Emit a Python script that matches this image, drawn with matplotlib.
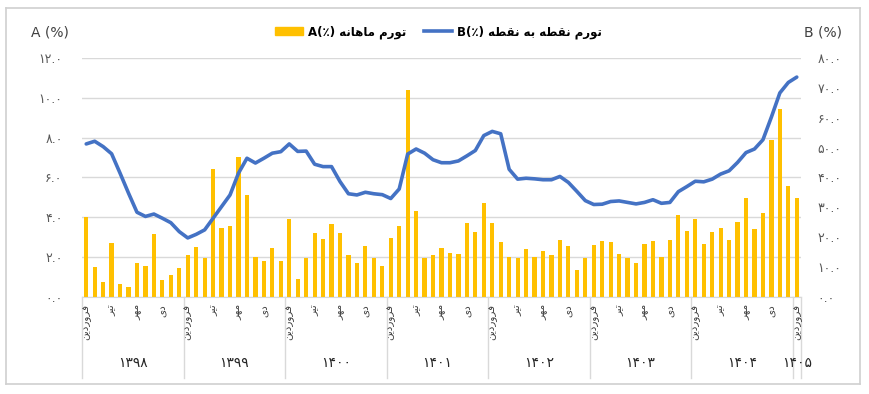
import numpy as np
import matplotlib
matplotlib.use('Agg')
import matplotlib.pyplot as plt
from matplotlib.patches import Rectangle
from matplotlib.lines import Line2D

plt.rcParams['font.family'] = ['DejaVu Sans']

# monthly inflation A (%) - Farvardin 1398 .. Farvardin 1405
a_monthly = [4.00, 1.50, 0.74, 2.72, 0.62, 0.47, 1.71, 1.54, 3.17, 0.84, 1.07, 1.43,
             2.10, 2.50, 1.96, 6.41, 3.46, 3.56, 7.03, 5.12, 1.98, 1.81, 2.47, 1.80,
             3.91, 0.87, 1.96, 3.19, 2.90, 3.63, 3.19, 2.10, 1.70, 2.53, 1.95, 1.54,
             2.95, 3.54, 10.41, 4.30, 1.96, 2.08, 2.45, 2.22, 2.13, 3.71, 3.26, 4.70,
             3.68, 2.74, 2.00, 1.95, 2.40, 2.00, 2.30, 2.11, 2.85, 2.57, 1.36, 1.96,
             2.60, 2.80, 2.75, 2.15, 1.93, 1.71, 2.65, 2.80, 2.00, 2.85, 4.13, 3.31,
             3.91, 2.67, 3.27, 3.47, 2.84, 3.76, 4.97, 3.39, 4.20, 7.87, 9.43, 5.59,
             4.97]
# point-to-point inflation B (%)
b_yoy = [51.2, 52.1, 50.3, 47.9, 41.4, 34.7, 28.3, 26.9, 27.7, 26.3, 24.8, 21.8,
         19.7, 20.9, 22.4, 26.3, 30.2, 34.1, 41.4, 46.4, 44.8, 46.4, 48.1, 48.6,
         51.2, 48.7, 48.8, 44.4, 43.6, 43.6, 38.6, 34.5, 34.1, 35.0, 34.5, 34.2,
         32.9, 36.1, 47.8, 49.5, 48.1, 45.9, 44.9, 44.9, 45.5, 47.2, 49.0, 54.0,
         55.4, 54.6, 42.7, 39.4, 39.7, 39.5, 39.2, 39.2, 40.3, 38.3, 35.3, 32.2,
         30.9, 31.0, 31.9, 32.1, 31.6, 31.1, 31.6, 32.5, 31.3, 31.6, 35.2, 36.9,
         38.7, 38.5, 39.4, 41.1, 42.2, 45.0, 48.3, 49.5, 52.6, 60.2, 68.3, 71.8,
         73.6]

years = ['۱۳۹۸', '۱۳۹۹', '۱۴۰۰', '۱۴۰۱', '۱۴۰۲', '۱۴۰۳', '۱۴۰۴', '۱۴۰۵']
month_labels = ['فروردین', 'تیر', 'مهر', 'دی']   # months 1, 4, 7, 10
left_ticks = [0, 2, 4, 6, 8, 10, 12]
right_ticks = [0, 10, 20, 30, 40, 50, 60, 70, 80]
label_a = 'تورم ماهانه'
label_b = 'تورم نقطه به نقطه'

# --- minimal persian shaping (matplotlib has no bidi / joining) ---
DUAL = {'ب': (0xFE8F, 0xFE90, 0xFE91, 0xFE92), 'ت': (0xFE95, 0xFE96, 0xFE97, 0xFE98),
        'ط': (0xFEC1, 0xFEC2, 0xFEC3, 0xFEC4), 'ف': (0xFED1, 0xFED2, 0xFED3, 0xFED4),
        'ق': (0xFED5, 0xFED6, 0xFED7, 0xFED8), 'م': (0xFEE1, 0xFEE2, 0xFEE3, 0xFEE4),
        'ن': (0xFEE5, 0xFEE6, 0xFEE7, 0xFEE8), 'ه': (0xFEE9, 0xFEEA, 0xFEEB, 0xFEEC),
        'ی': (0xFBFC, 0xFBFD, 0xFBFE, 0xFBFF)}
RIGHT = {'ا': (0xFE8D, 0xFE8E), 'و': (0xFEED, 0xFEEE), 'ر': (0xFEAD, 0xFEAE),
         'د': (0xFEA9, 0xFEAA)}


def fa(s):
    out = []
    for i, c in enumerate(s):
        prev = s[i - 1] if i > 0 else ''
        nxt = s[i + 1] if i + 1 < len(s) else ''
        jp = prev in DUAL
        if c in RIGHT:
            out.append(chr(RIGHT[c][1] if jp else RIGHT[c][0]))
        elif c in DUAL:
            jn = nxt in DUAL or nxt in RIGHT
            iso, fin, ini, med = DUAL[c]
            if jp and jn:
                out.append(chr(med))
            elif jp:
                out.append(chr(fin))
            elif jn:
                out.append(chr(ini))
            else:
                out.append(chr(iso))
        else:
            out.append(c)
    return ''.join(out)[::-1]


fdig = str.maketrans('0123456789', '۰۱۲۳۴۵۶۷۸۹')

def pnum(v):
    return ('%.1f' % v).translate(fdig)


x = np.arange(len(a_monthly))

fig = plt.figure(figsize=(8.7, 3.94), dpi=100)

# outer chart border, drawn as an empty background axes
ax0 = fig.add_axes([6 / 870, 10 / 394, 854 / 870, 376 / 394], zorder=-1)
ax0.set_xticks([])
ax0.set_yticks([])
ax0.patch.set_alpha(0)
for s in ax0.spines.values():
    s.set_color('#D0D0D0')
    s.set_linewidth(1.2)

ax1 = fig.add_axes([82 / 870, 97.3 / 394, 719 / 870, 238.7 / 394])
ax1.bar(x, a_monthly, width=0.5, color='#FFC000', zorder=2)
ax1.set_xlim(-0.5, len(x) - 0.5)
ax1.set_ylim(0, 12)
ax1.set_yticks(left_ticks)
ax1.set_yticklabels([pnum(v) for v in left_ticks])
ax1.tick_params(axis='y', length=0, pad=14, labelsize=9, labelcolor='#595959')
ax1.grid(axis='y', color='#D9D9D9', linewidth=1.0, zorder=0)
ax1.set_axisbelow(True)
for s in ['top', 'left', 'right']:
    ax1.spines[s].set_visible(False)
ax1.spines['bottom'].set_color('#D9D9D9')
ax1.set_xticks([])

ax2 = ax1.twinx()
ax2.plot(x, b_yoy, color='#4472C4', linewidth=2.6, solid_capstyle='round', zorder=3)
ax2.set_ylim(0, 80)
ax2.set_yticks(right_ticks)
ax2.set_yticklabels([pnum(v) for v in right_ticks])
ax2.tick_params(axis='y', length=0, pad=12, labelsize=9, labelcolor='#595959')
for s in ['top', 'left', 'right', 'bottom']:
    ax2.spines[s].set_visible(False)

# multi level category axis
trans = ax1.get_xaxis_transform()
for k in range(len(x)):
    m = k % 12
    if m in (0, 3, 6, 9):
        ax1.text(k, -0.03, fa(month_labels[m // 3]), transform=trans, rotation=90,
                 ha='center', va='top', fontsize=7.5, color='#404040')
bounds = list(range(0, len(x), 12)) + [len(x)]
for b in bounds:
    ax1.plot([b - 0.5, b - 0.5], [0, -0.34], transform=trans, color='#D9D9D9',
             linewidth=1.0, clip_on=False)
for i, yl in enumerate(years):
    lo = bounds[i]
    hi = bounds[i + 1] - 1
    ax1.text((lo + hi) / 2, -0.276, yl, transform=trans, ha='center', va='center',
             fontsize=10, color='#262626')

# axis titles
fig.text(50 / 870, 1 - 32 / 394, 'A (%)', ha='center', va='center', fontsize=10, color='#404040')
fig.text(823 / 870, 1 - 32 / 394, 'B (%)', ha='center', va='center', fontsize=10, color='#404040')

# legend
h1 = Rectangle((0, 0), 1, 1, color='#FFC000')
h2 = Line2D([0], [0], color='#4472C4', linewidth=2.6)
fig.legend([h1, h2], ['A(٪) ' + fa(label_a), 'B(٪) ' + fa(label_b)], ncol=2,
           loc='center', bbox_to_anchor=(0.504, 1 - 32 / 394), frameon=False,
           prop={'size': 8.5, 'weight': 'bold'}, handlelength=2.4, handleheight=0.6,
           columnspacing=1.5, handletextpad=0.4)

fig.savefig('out.png', dpi=100)
